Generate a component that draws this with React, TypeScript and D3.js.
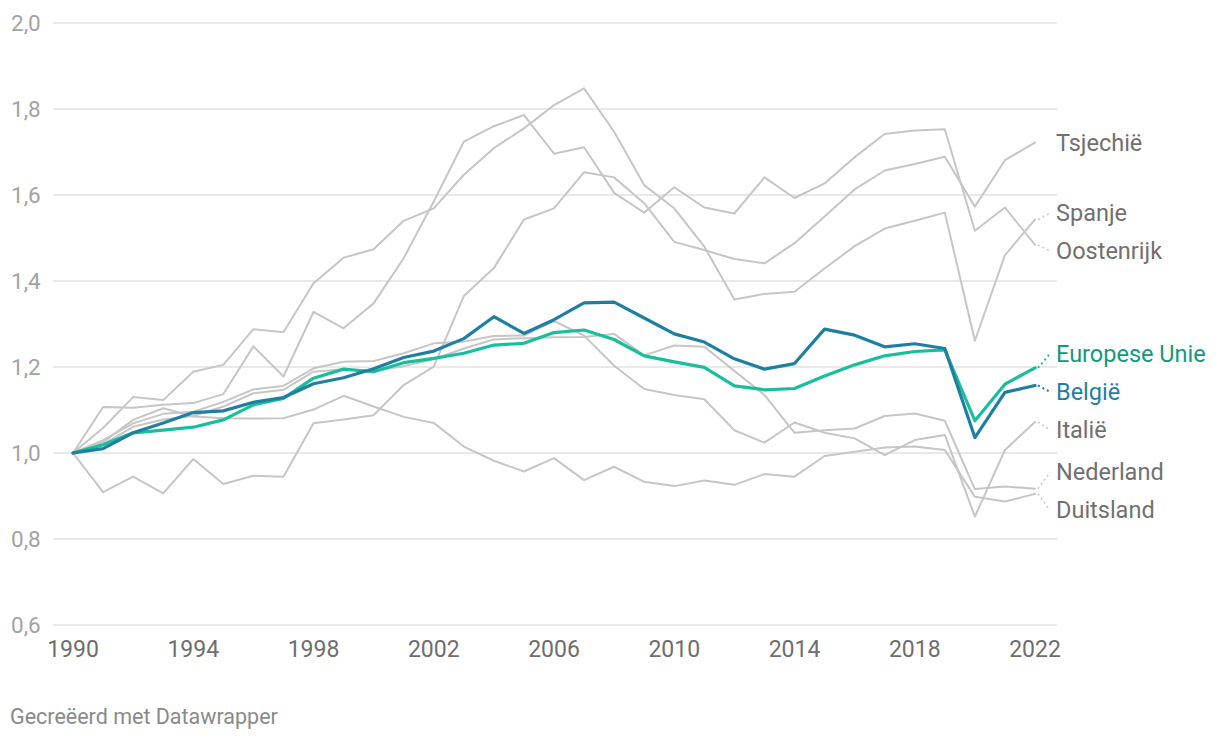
import React, { useEffect, useRef } from 'react';
import * as d3 from 'd3';

const years = [
  1990, 1991, 1992, 1993, 1994, 1995, 1996, 1997, 1998, 1999,
  2000, 2001, 2002, 2003, 2004, 2005, 2006, 2007, 2008, 2009,
  2010, 2011, 2012, 2013, 2014, 2015, 2016, 2017, 2018, 2019,
  2020, 2021, 2022,
];

const xTicks = [1990, 1994, 1998, 2002, 2006, 2010, 2014, 2018, 2022];
const yTicks = [0.6, 0.8, 1.0, 1.2, 1.4, 1.6, 1.8, 2.0];

const tsjechie = [
  1.0, 0.909, 0.945, 0.906, 0.986, 0.928, 0.947, 0.945, 1.069, 1.078,
  1.088, 1.158, 1.201, 1.365, 1.43, 1.543, 1.569, 1.653, 1.641, 1.581,
  1.491, 1.472, 1.451, 1.441, 1.488, 1.55, 1.613, 1.657, 1.672, 1.689,
  1.573, 1.681, 1.722,
];
const spanje = [
  1.0, 1.058, 1.13, 1.123, 1.189, 1.205, 1.288, 1.281, 1.395, 1.454,
  1.474, 1.54, 1.569, 1.647, 1.709, 1.755, 1.809, 1.848, 1.747, 1.623,
  1.569, 1.48, 1.357, 1.37, 1.375, 1.429, 1.481, 1.522, 1.54, 1.559,
  1.261, 1.46, 1.543,
];
const oostenrijk = [
  1.0, 1.107, 1.105, 1.112, 1.116, 1.137, 1.248, 1.178, 1.328, 1.29,
  1.348, 1.453, 1.585, 1.724, 1.76, 1.786, 1.696, 1.711, 1.605, 1.559,
  1.618, 1.571, 1.557, 1.641, 1.593, 1.627, 1.688, 1.742, 1.75, 1.753,
  1.517, 1.571, 1.484,
];
const italie = [
  1.0, 1.03, 1.069, 1.091, 1.096, 1.119, 1.148, 1.156, 1.197, 1.212,
  1.214, 1.232, 1.255, 1.259, 1.272, 1.273, 1.307, 1.273, 1.203, 1.149,
  1.135, 1.125, 1.053, 1.024, 1.071, 1.047, 1.034, 0.995, 1.03, 1.042,
  0.852, 1.007, 1.072,
];
const nederland = [
  1.0, 1.02, 1.061, 1.078, 1.086, 1.108, 1.139, 1.147, 1.189, 1.195,
  1.191, 1.202, 1.218, 1.243, 1.264, 1.267, 1.269, 1.27, 1.277, 1.227,
  1.25, 1.247, 1.191, 1.135, 1.047, 1.053, 1.057, 1.086, 1.092, 1.075,
  0.916, 0.922, 0.917,
];
const duitsland = [
  1.0, 1.025, 1.077, 1.104, 1.085, 1.081, 1.08, 1.081, 1.101, 1.133,
  1.108, 1.084, 1.07, 1.015, 0.982, 0.957, 0.988, 0.937, 0.968, 0.933,
  0.923, 0.936, 0.926, 0.951, 0.945, 0.993, 1.003, 1.013, 1.015, 1.007,
  0.898, 0.887, 0.905,
];
const europeseUnie = [
  1.0, 1.019, 1.047, 1.053, 1.06, 1.077, 1.112, 1.127, 1.174, 1.195,
  1.189, 1.21, 1.22, 1.232, 1.251, 1.255, 1.28, 1.286, 1.264, 1.226,
  1.212, 1.199, 1.156, 1.147, 1.15, 1.179, 1.205, 1.226, 1.236, 1.24,
  1.075, 1.16, 1.198,
];
const belgie = [
  1.0, 1.01, 1.047, 1.07, 1.094, 1.098, 1.118, 1.129, 1.161, 1.175,
  1.196, 1.222, 1.237, 1.266, 1.317, 1.278, 1.31, 1.349, 1.351, 1.314,
  1.277, 1.258, 1.219, 1.195, 1.208, 1.288, 1.274, 1.247, 1.254, 1.243,
  1.036, 1.141, 1.157,
];

const GREY = '#c6c6c6';
const GREY_TEXT = '#707070';

const series = [
  { name: 'Tsjechië', values: tsjechie, color: GREY, text: GREY_TEXT, width: 2 },
  { name: 'Spanje', values: spanje, color: GREY, text: GREY_TEXT, width: 2 },
  { name: 'Oostenrijk', values: oostenrijk, color: GREY, text: GREY_TEXT, width: 2 },
  { name: 'Italië', values: italie, color: GREY, text: GREY_TEXT, width: 2 },
  { name: 'Nederland', values: nederland, color: GREY, text: GREY_TEXT, width: 2 },
  { name: 'Duitsland', values: duitsland, color: GREY, text: GREY_TEXT, width: 2 },
  { name: 'Europese Unie', values: europeseUnie, color: '#17bf9c', text: '#0f9a80', width: 3.2 },
  { name: 'België', values: belgie, color: '#1f7fa1', text: '#1f7fa1', width: 3.2 },
];

const W = 1220;
const H = 740;

// simple label de-overlap: merge neighbours into centred clusters
function placeLabels(items: { key: string; y: number }[], gap: number) {
  const sorted = items.slice().sort((a, b) => a.y - b.y);
  let clusters = sorted.map(d => ({ items: [d], top: d.y }));
  let merged = true;
  while (merged) {
    merged = false;
    for (let i = 0; i < clusters.length - 1; i++) {
      const a = clusters[i];
      const b = clusters[i + 1];
      if (a.top + a.items.length * gap > b.top) {
        const its = [...a.items, ...b.items];
        const mean = d3.mean(its, d => d.y) as number;
        clusters.splice(i, 2, { items: its, top: mean - ((its.length - 1) * gap) / 2 });
        merged = true;
        break;
      }
    }
  }
  const out: Record<string, number> = {};
  clusters.forEach(c => c.items.forEach((d, k) => { out[d.key] = c.top + k * gap; }));
  return out;
}

const App: React.FC = () => {
  const svgRef = useRef<SVGSVGElement>(null);

  useEffect(() => {
    if (!svgRef.current) return;
    const svg = d3.select(svgRef.current);
    svg.selectAll('*').remove();

    const x = d3.scaleLinear().domain([1990, 2022]).range([73, 1035]);
    const y = d3.scaleLinear().domain([0.6, 2.0]).range([625, 23]);
    const fmt = (v: number) => d3.format('.1f')(v).replace('.', ',');

    // gridlines + y labels
    const grid = svg.append('g');
    grid.selectAll('line')
      .data(yTicks)
      .join('line')
      .attr('x1', 53)
      .attr('x2', 1057)
      .attr('y1', d => y(d))
      .attr('y2', d => y(d))
      .attr('stroke', '#e2e2e2')
      .attr('stroke-width', 1.5);
    grid.selectAll('text')
      .data(yTicks)
      .join('text')
      .attr('x', 11)
      .attr('y', d => y(d))
      .attr('dy', '0.35em')
      .style('font-size', '22.5px')
      .style('fill', '#a3a3a3')
      .text(d => fmt(d));

    // x labels
    svg.append('g')
      .selectAll('text')
      .data(xTicks)
      .join('text')
      .attr('x', d => x(d))
      .attr('y', 649)
      .attr('dy', '0.35em')
      .attr('text-anchor', 'middle')
      .style('font-size', '23px')
      .style('fill', '#6e6e6e')
      .text(d => String(d));

    const line = d3.line<number>()
      .x((_, i) => x(years[i]))
      .y(d => y(d));

    svg.append('g')
      .selectAll('path')
      .data(series)
      .join('path')
      .attr('d', d => line(d.values))
      .attr('fill', 'none')
      .attr('stroke', d => d.color)
      .attr('stroke-width', d => d.width)
      .attr('stroke-linejoin', 'round')
      .attr('stroke-linecap', 'round');

    // end labels
    const last = years.length - 1;
    const labelY = placeLabels(series.map(s => ({ key: s.name, y: y(s.values[last]) })), 38);
    const lab = svg.append('g');
    series.forEach(s => {
      const ey = y(s.values[last]);
      const ly = labelY[s.name];
      if (Math.abs(ly - ey) > 2) {
        lab.append('line')
          .attr('x1', x(2022) + 3)
          .attr('y1', ey)
          .attr('x2', 1050)
          .attr('y2', ly)
          .attr('stroke', s.color)
          .attr('stroke-width', s.width > 2 ? 2 : 1.5)
          .attr('stroke-dasharray', '2,3');
      }
      lab.append('text')
        .attr('x', 1056)
        .attr('y', ly)
        .attr('dy', '0.35em')
        .style('font-size', '23.5px')
        .style('fill', s.text)
        .text(s.name);
    });

    svg.append('text')
      .attr('x', 10)
      .attr('y', 716)
      .attr('dy', '0.35em')
      .style('font-size', '21.5px')
      .style('fill', '#8a8a8a')
      .text('Gecreëerd met Datawrapper');
  }, []);

  return (
    <svg
      ref={svgRef}
      width={W}
      height={H}
      style={{ position: 'absolute', left: 0, top: 0, fontFamily: 'Roboto, sans-serif', background: '#fff' }}
    />
  );
};

export default App;
